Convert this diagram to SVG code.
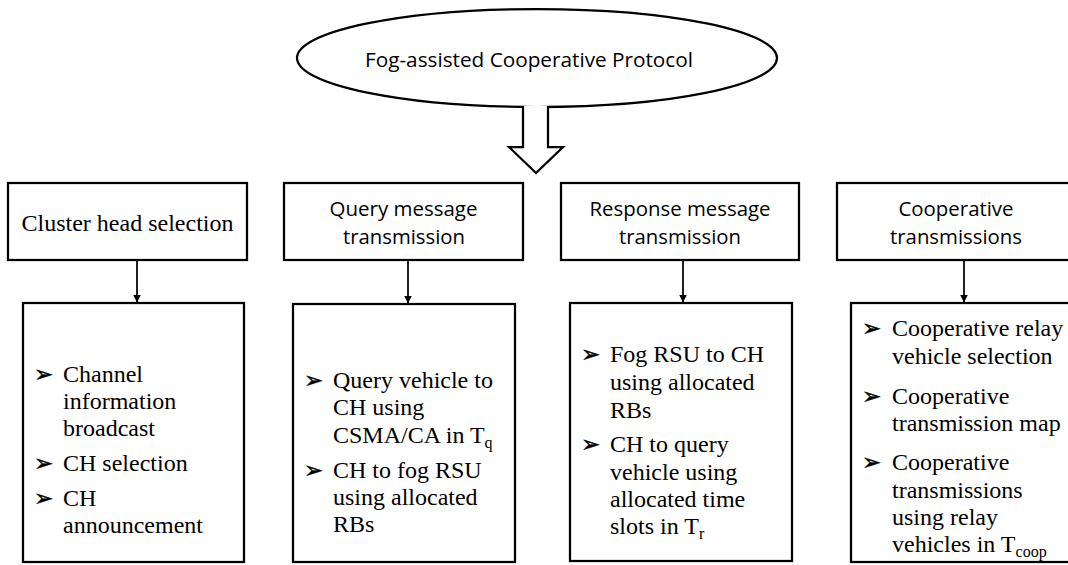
<svg xmlns="http://www.w3.org/2000/svg" width="1068" height="565" viewBox="0 0 1068 565">
<defs>
<style>
.box{fill:#fff;stroke:#000;stroke-width:2.25}
.serif{font-family:"Liberation Serif","Times New Roman",serif;font-size:24px;fill:#000}
.sans{font-family:"Open Sans","Liberation Sans",sans-serif;font-size:20px;fill:#000}
.bul{font-family:"DejaVu Sans",sans-serif;font-size:23px;fill:#000;stroke:#000;stroke-width:0.4}
.conn{stroke:#000;stroke-width:1.75;fill:none}
.sub{font-size:16px}
</style>
<marker id="ah" markerWidth="8" markerHeight="8" refX="8" refY="4" orient="auto" markerUnits="userSpaceOnUse">
<path d="M0,0 L8,4 L0,8 z" fill="#000"/>
</marker>
</defs>
<rect width="1068" height="565" fill="#fff"/>

<g id="root">
<ellipse class="box" cx="537" cy="58" rx="240" ry="49"/>
<text class="sans" x="365" y="67" textLength="328" lengthAdjust="spacingAndGlyphs">Fog-assisted Cooperative Protocol</text>
</g>

<g id="block-arrow">
<path d="M523,106 V147 H509 L536,173 L563,147 H548 V106" fill="#fff" stroke="#000" stroke-width="2.25" stroke-linejoin="miter"/>
</g>

<g id="h1">
<rect class="box" x="8" y="183" width="239" height="77"/>
<text class="serif" x="127.5" y="231" text-anchor="middle">Cluster head selection</text>
</g>
<g id="h2">
<rect class="box" x="284" y="183" width="239" height="77"/>
<text class="sans" x="403.5" y="216" text-anchor="middle" textLength="148" lengthAdjust="spacingAndGlyphs">Query message</text>
<text class="sans" x="404" y="244" text-anchor="middle" textLength="122" lengthAdjust="spacingAndGlyphs">transmission</text>
</g>
<g id="h3">
<rect class="box" x="561" y="183" width="238" height="77"/>
<text class="sans" x="680" y="216" text-anchor="middle" textLength="181" lengthAdjust="spacingAndGlyphs">Response message</text>
<text class="sans" x="680" y="244" text-anchor="middle" textLength="122" lengthAdjust="spacingAndGlyphs">transmission</text>
</g>
<g id="h4">
<rect class="box" x="837" y="183" width="239" height="77"/>
<text class="sans" x="956" y="216" text-anchor="middle" textLength="115" lengthAdjust="spacingAndGlyphs">Cooperative</text>
<text class="sans" x="956" y="244" text-anchor="middle" textLength="132" lengthAdjust="spacingAndGlyphs">transmissions</text>
</g>

<g id="connectors">
<line class="conn" x1="137" y1="261" x2="137" y2="302.5" marker-end="url(#ah)"/>
<line class="conn" x1="408" y1="261" x2="408" y2="303.5" marker-end="url(#ah)"/>
<line class="conn" x1="683" y1="261" x2="683" y2="302.5" marker-end="url(#ah)"/>
<line class="conn" x1="964" y1="261" x2="964" y2="302.5" marker-end="url(#ah)"/>
</g>

<g id="d1">
<rect class="box" x="23" y="303" width="221" height="259"/>
<text class="bul" x="34" y="382">➢</text>
<text class="serif" x="63" y="382">Channel</text>
<text class="serif" x="63" y="409">information</text>
<text class="serif" x="63" y="436">broadcast</text>
<text class="bul" x="34" y="471">➢</text>
<text class="serif" x="63" y="471">CH selection</text>
<text class="bul" x="34" y="506">➢</text>
<text class="serif" x="63" y="506">CH</text>
<text class="serif" x="63" y="533">announcement</text>
</g>

<g id="d2">
<rect class="box" x="293" y="304" width="222" height="258"/>
<text class="bul" x="304" y="388">➢</text>
<text class="serif" x="333" y="388">Query vehicle to</text>
<text class="serif" x="333" y="415">CH using</text>
<text class="serif" x="333" y="443">CSMA/CA in T<tspan class="sub" dy="5">q</tspan></text>
<text class="bul" x="304" y="478">➢</text>
<text class="serif" x="333" y="478">CH to fog RSU</text>
<text class="serif" x="333" y="505">using allocated</text>
<text class="serif" x="333" y="532">RBs</text>
</g>

<g id="d3">
<rect class="box" x="570" y="303" width="222" height="258"/>
<text class="bul" x="581" y="362">➢</text>
<text class="serif" x="610" y="362">Fog RSU to CH</text>
<text class="serif" x="610" y="390">using allocated</text>
<text class="serif" x="610" y="418">RBs</text>
<text class="bul" x="581" y="452">➢</text>
<text class="serif" x="610" y="452">CH to query</text>
<text class="serif" x="610" y="480">vehicle using</text>
<text class="serif" x="610" y="507">allocated time</text>
<text class="serif" x="610" y="534">slots in T<tspan class="sub" dy="5">r</tspan></text>
</g>

<g id="d4">
<rect class="box" x="851" y="303" width="222" height="259"/>
<text class="bul" x="862" y="336">➢</text>
<text class="serif" x="892" y="336">Cooperative relay</text>
<text class="serif" x="892" y="364">vehicle selection</text>
<text class="bul" x="862" y="404">➢</text>
<text class="serif" x="892" y="404">Cooperative</text>
<text class="serif" x="892" y="431">transmission map</text>
<text class="bul" x="862" y="470">➢</text>
<text class="serif" x="892" y="470">Cooperative</text>
<text class="serif" x="892" y="498">transmissions</text>
<text class="serif" x="892" y="525">using relay</text>
<text class="serif" x="892" y="552">vehicles in T<tspan class="sub" dy="5">coop</tspan></text>
</g>
</svg>
